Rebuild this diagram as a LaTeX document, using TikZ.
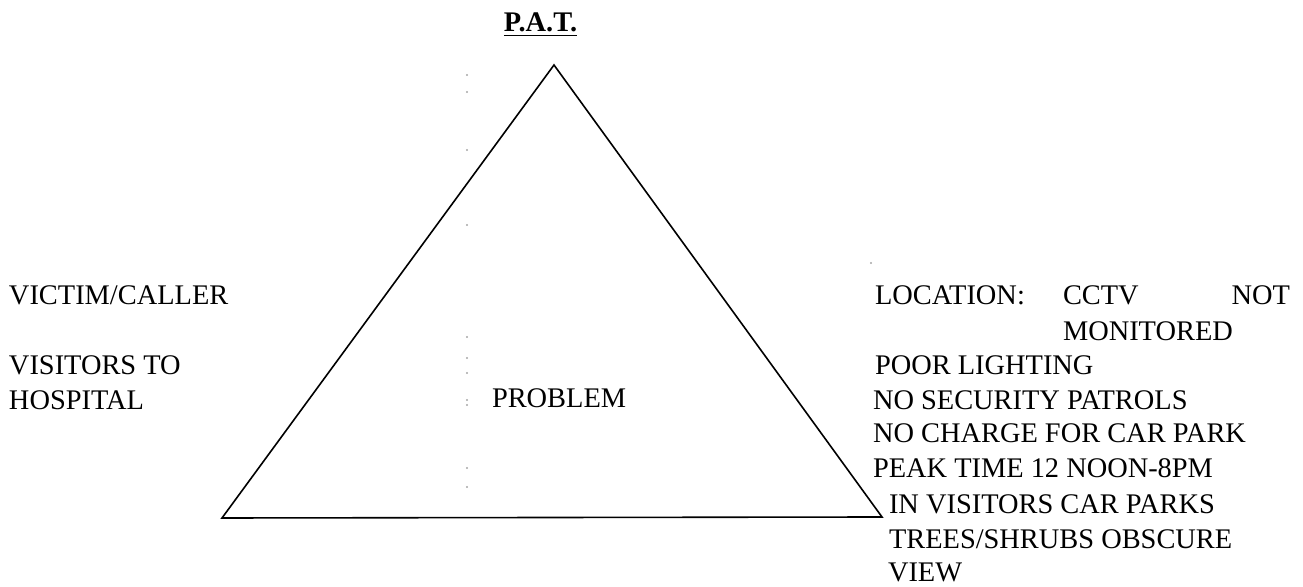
\documentclass[tikz,border=0pt]{standalone}
\usepackage{fontspec}
\setmainfont{Liberation Serif}
\usetikzlibrary{positioning}

\begin{document}
\begin{tikzpicture}[
    x=0.5pt, y=-0.5pt,
    every node/.style={font=\fontsize{14.2}{17}\selectfont, inner sep=0pt, outer sep=0pt},
    lt/.style={anchor=base west},
    rt/.style={anchor=base east},
    edge/.style={line width=0.8pt, line join=miter},
    speck/.style={fill=black!35}
]
\useasboundingbox (0,0) rectangle (1303,587);
% triangle
\coordinate (apex) at (554,65);
\coordinate (bl)   at (222,518);
\coordinate (br)   at (882,517);
\draw[edge] (apex) -- (bl) -- (br) -- cycle;
% faint scan specks
\foreach \y in {75,92,150,225,337,358,373,400,405,468,487}
  \fill[speck] (467,\y) circle (0.6pt);
\fill[speck] (871,263) circle (0.6pt);

\node[anchor=base] (pat) at (540.5,32) {\textbf{\underline{P.A.T.}}};
\node[lt] (prob) at (492,408) {PROBLEM};

% left side
\node[lt] (victim) at (9,305) {VICTIM/CALLER};
\node[lt] (vis)    at (9,375) {VISITORS TO};
\node[lt] (hosp)   at (9,410) {HOSPITAL};

% right side
\node[lt] (loc)    at (875,305)  {LOCATION:};
\node[lt] (cctv)   at (1063,305) {CCTV};
\node[rt] (not)    at (1290,305) {NOT};
\node[lt] (mon)    at (1063,341) {MONITORED};
\node[lt] (light)  at (875,375)  {POOR LIGHTING};
\node[lt] (patrol) at (873,410)  {NO SECURITY PATROLS};
\node[lt] (charge) at (873,443)  {NO CHARGE FOR CAR PARK};
\node[lt] (peak)   at (873,478)  {PEAK TIME 12 NOON-8PM};
\node[lt] (inpark) at (889,514)  {IN VISITORS CAR PARKS};
\node[lt] (trees)  at (889,549)  {TREES/SHRUBS OBSCURE};
\node[lt] (view)   at (888,582)  {VIEW};
\end{tikzpicture}
\end{document}
